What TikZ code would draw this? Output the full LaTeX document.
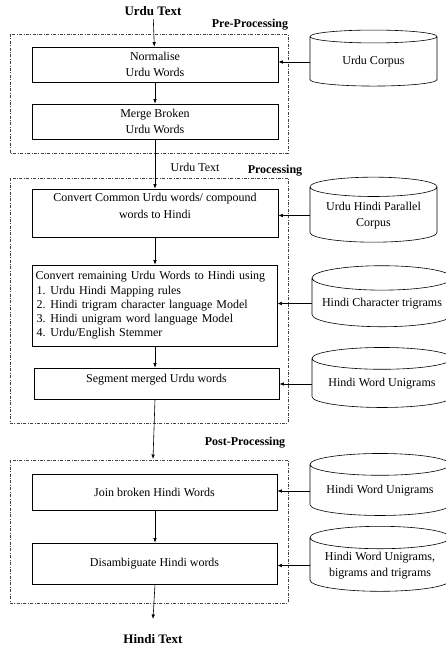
\documentclass[tikz,border=0pt]{standalone}
\usepackage{fontspec}
\setmainfont{Liberation Serif}
\usetikzlibrary{shapes.geometric,arrows.meta}
\tikzset{
  procbox/.style={draw, line width=0.6pt, minimum width=246pt, align=center, inner sep=2pt,
    font=\fontsize{12}{16.5}\selectfont},
  store/.style={cylinder, shape border rotate=90, draw, line width=0.6pt, aspect=0.2,
    align=center, inner sep=1pt, font=\fontsize{12}{16}\selectfont},
  stage/.style={dash pattern=on 3pt off 1.5pt on 0.8pt off 1.5pt, line width=0.5pt, black!75},
  head/.style={font=\bfseries\fontsize{12}{14}\selectfont},
  flow/.style={-{Latex[length=4.5pt,width=3.5pt]}, line width=0.6pt},
}
\begin{document}
\begin{tikzpicture}[x=1pt,y=-1pt]
\useasboundingbox (0,0) rectangle (445,647);

% the three stages
\draw[stage] (10,34) rectangle (288,153);
\draw[stage] (10,178) rectangle (288,423);
\draw[stage] (10,460) rectangle (288,603);
\node[head] (prehead) at (250,25) {Pre-Processing};
\node[head] (prochead) at (275,171) {Processing};
\node[head] (posthead) at (245,443) {Post-Processing};

% input and output
\node[font=\bfseries\fontsize{13}{15}\selectfont] (urdutext) at (153,11) {Urdu Text};
\node[font=\bfseries\fontsize{13}{15}\selectfont] (hinditext) at (153,639) {Hindi Text};
\node[font=\fontsize{12}{14}\selectfont] (midtext) at (195,167) {Urdu Text};
\coordinate (posttop) at (153,459);
\coordinate (outend) at (153,619);

% steps
\node[procbox, minimum height=35pt] (normalise) at (155,64.5) {Normalise\\Urdu Words};
\node[procbox, minimum height=35pt] (merge) at (155,121.5) {Merge Broken\\Urdu Words};
\node[procbox, minimum height=48pt, text depth=14pt] (common) at (155,213)
  {Convert Common Urdu words/ compound\\words to Hindi};
\node[procbox, minimum height=81pt, minimum width=245pt, text width=238pt, align=left,
  font=\fontsize{12}{14.3}\selectfont] (remain) at (154.5,305.5)
  {Convert remaining Urdu Words to Hindi using\\
   \hspace*{1pt}1.\hspace{5pt}Urdu Hindi Mapping rules\\
   \hspace*{1pt}2.\hspace{5pt}Hindi trigram character language Model\\
   \hspace*{1pt}3.\hspace{5pt}Hindi unigram word language Model\\
   \hspace*{1pt}4.\hspace{5pt}Urdu/English Stemmer};
\node[procbox, minimum height=31pt, minimum width=245pt, text depth=10pt] (segment) at (156.5,383.5)
  {Segment merged Urdu words};
\node[procbox, minimum height=36pt, minimum width=245pt] (join) at (154.5,492) {Join broken Hindi Words};
\node[procbox, minimum height=41pt, minimum width=245pt] (disamb) at (154.5,563.5) {Disambiguate Hindi words};

% resources
\node[store, minimum width=127pt, minimum height=56pt] (urducorpus) at (373.5,62) {Urdu Corpus};
\node[store, minimum width=127pt, minimum height=65pt] (parallel) at (373.5,215.5) {Urdu Hindi Parallel\\Corpus};
\node[store, minimum width=140pt, minimum height=61pt] (chartri) at (382,303.5) {Hindi Character trigrams};
\node[store, minimum width=140pt, minimum height=60pt] (wordunisegment) at (382,384) {Hindi Word Unigrams};
\node[store, minimum width=140pt, minimum height=62pt] (wordunijoin) at (380,491) {Hindi Word Unigrams};
\node[store, minimum width=140pt, minimum height=65pt] (wordngrams) at (380,565.5)
  {Hindi Word Unigrams,\\bigrams and trigrams};

% main flow
\draw[flow] (urdutext) -- (normalise);
\draw[flow] (normalise) -- (normalise |- merge.north);
\draw[flow] (merge.south -| normalise) -- (normalise |- common.north);
\draw[flow] (common.south -| normalise) -- (normalise |- remain.north);
\draw[flow] (remain.south -| normalise) -- (normalise |- segment.north);
\draw[flow] (segment.south -| normalise) -- (posttop);
\draw[flow] (normalise |- join.south) -- (normalise |- disamb.north);
\draw[flow] (normalise |- disamb.south) -- (outend);

% resources into the steps
\draw[flow] (urducorpus.west) -- (urducorpus.west -| normalise.east);
\draw[flow] (parallel.west) -- (parallel.west -| common.east);
\draw[flow] (chartri.west) -- (chartri.west -| remain.east);
\draw[flow] (wordunisegment.west) -- (wordunisegment.west -| segment.east);
\draw[flow] (wordunijoin.west) -- (wordunijoin.west -| join.east);
\draw[flow] (wordngrams.west) -- (wordngrams.west -| disamb.east);
\end{tikzpicture}
\end{document}
